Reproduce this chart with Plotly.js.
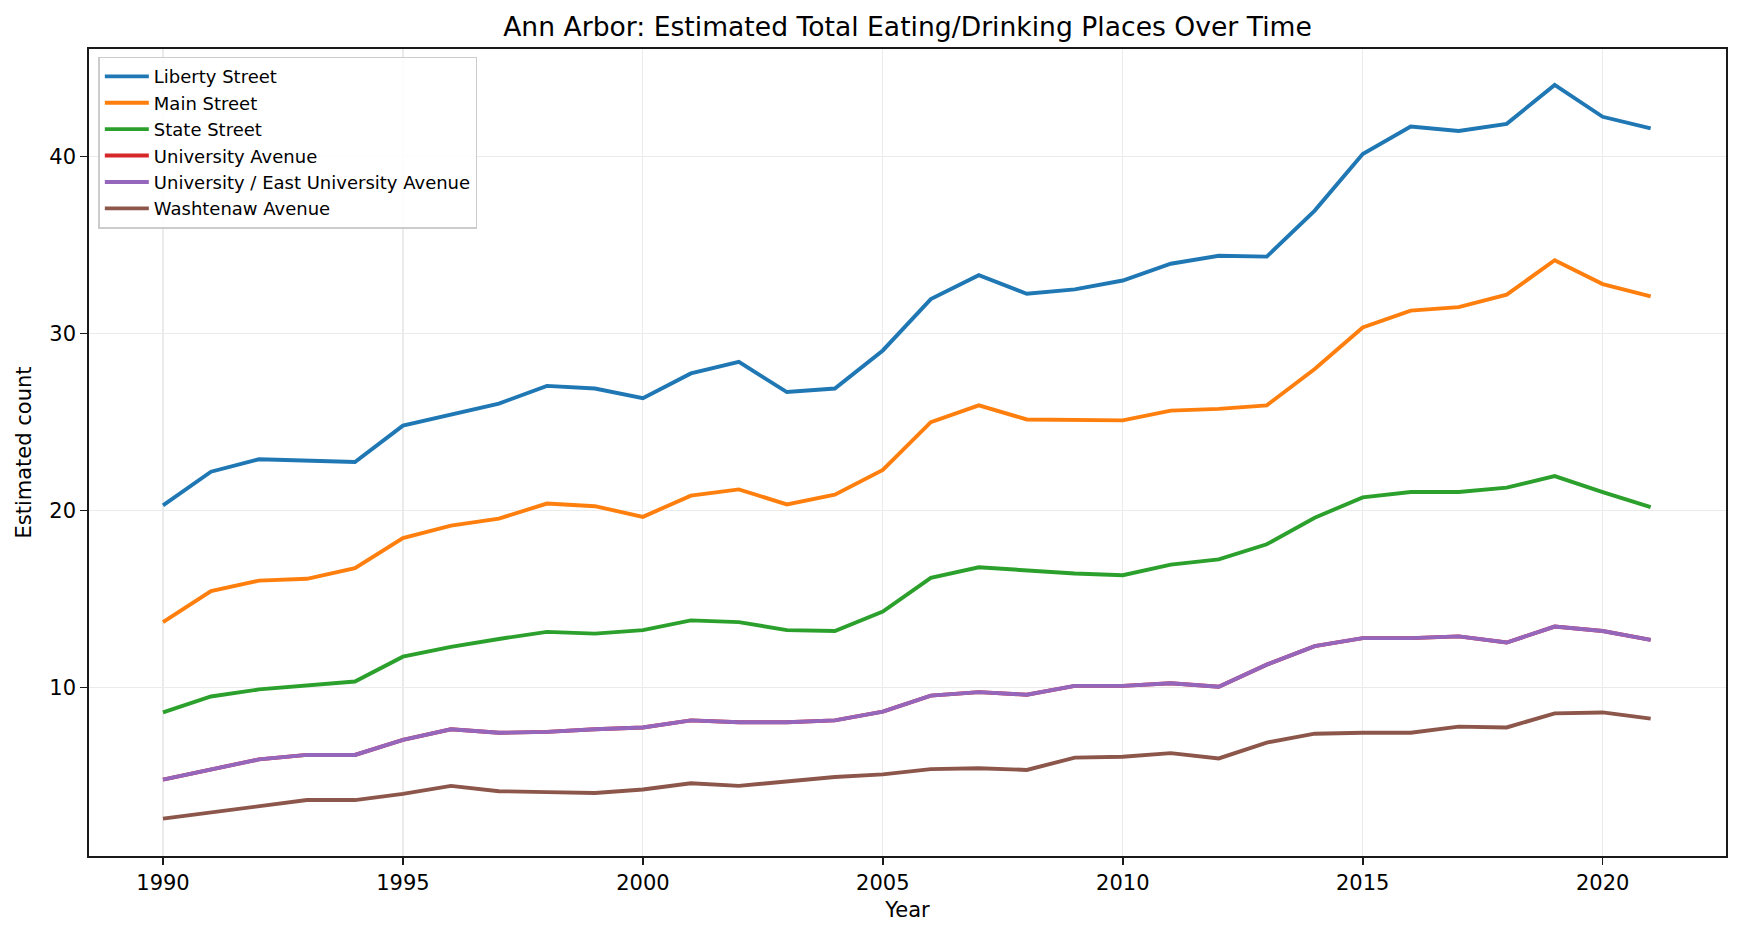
<!DOCTYPE html>
<html>
<head>
<meta charset="utf-8">
<script src="https://cdn.plot.ly/plotly-3.0.1.min.js"></script>
<style>html,body{margin:0;padding:0;background:#fff;}</style>
</head>
<body>
<div id="chart" style="width:1741px;height:936px;"></div>
<script>
const years = [1990,1991,1992,1993,1994,1995,1996,1997,1998,1999,2000,2001,2002,2003,2004,2005,2006,2007,2008,2009,2010,2011,2012,2013,2014,2015,2016,2017,2018,2019,2020,2021];
const libertyStreet = [20.3,22.2,22.9,22.8,22.75,24.8,25.4,26.05,27.05,26.9,26.35,27.75,28.4,26.7,26.9,29.05,31.95,33.3,32.25,32.5,33.0,33.95,34.4,34.35,36.95,40.15,41.7,41.45,41.85,44.05,42.25,41.6];
const mainStreet = [13.7,15.45,16.05,16.15,16.75,18.45,19.15,19.55,20.4,20.25,19.65,20.85,21.2,20.35,20.9,22.3,25.0,25.95,25.15,25.15,25.1,25.65,25.75,25.95,28.0,30.35,31.3,31.5,32.2,34.15,32.8,32.1];
const stateStreet = [8.6,9.5,9.9,10.1,10.35,11.75,12.3,12.75,13.15,13.05,13.25,13.8,13.7,13.25,13.2,14.3,16.2,16.8,16.6,16.45,16.35,16.95,17.25,18.1,19.6,20.75,21.05,21.05,21.3,21.95,21.05,20.2];
const universityAvenue = [4.8,5.4,5.95,6.2,6.2,7.05,7.65,7.45,7.5,7.65,7.75,8.15,8.05,8.05,8.15,8.65,9.55,9.75,9.6,10.1,10.1,10.25,10.05,11.3,12.35,12.8,12.8,12.9,12.55,13.45,13.2,12.7];
const universityEastAvenue = [4.8,5.4,5.95,6.2,6.2,7.05,7.65,7.45,7.5,7.65,7.75,8.15,8.05,8.05,8.15,8.65,9.55,9.75,9.6,10.1,10.1,10.25,10.05,11.3,12.35,12.8,12.8,12.9,12.55,13.45,13.2,12.7];
const washtenawAvenue = [2.6,2.95,3.35,3.65,3.65,4.0,4.45,4.15,4.1,4.05,4.25,4.6,4.45,4.7,4.95,5.1,5.4,5.45,5.35,6.05,6.1,6.3,6.0,6.9,7.4,7.45,7.45,7.8,7.75,8.55,8.6,8.25];

const seriesNames = ["Liberty Street","Main Street","State Street","University Avenue","University / East University Avenue","Washtenaw Avenue"];
const seriesValues = [libertyStreet, mainStreet, stateStreet, universityAvenue, universityEastAvenue, washtenawAvenue];
const seriesColors = ["#1f77b4","#ff7f0e","#2ca02c","#d62728","#9467bd","#8c564b"];
const xTicks = [1990,1995,2000,2005,2010,2015,2020];
const yTicks = [10,20,30,40];

const traces = seriesNames.map((n,i)=>({
  type:"scatter", mode:"lines", name:n, x:years, y:seriesValues[i],
  line:{color:seriesColors[i], width:3.9}
}));

const font = "DejaVu Sans, sans-serif";
const layout = {
  width:1741, height:936,
  paper_bgcolor:"#fff", plot_bgcolor:"#fff",
  margin:{l:89, r:15, t:49, b:80},
  font:{family:font, color:"#000"},
  title:{text:"Ann Arbor: Estimated Total Eating/Drinking Places Over Time", font:{family:font, size:26.6, color:"#000"}, x:0.5, xref:"paper", xanchor:"center", y:0.972, yanchor:"middle"},
  xaxis:{
    range:[1988.458,2022.57], tickvals:xTicks, ticktext:xTicks.map(String),
    ticks:"outside", ticklen:7, tickwidth:1.6, tickcolor:"#1a1a1a",
    showgrid:true, gridcolor:"#ebebeb", gridwidth:1.2,
    showline:true, linecolor:"#1a1a1a", linewidth:1.8, mirror:true, zeroline:false,
    tickfont:{family:font, size:21, color:"#000"},
    title:{text:"Year", font:{family:font, size:21, color:"#000"}, standoff:8}
  },
  yaxis:{
    range:[0.49,46.08], tickvals:yTicks, ticktext:yTicks.map(String),
    ticks:"outside", ticklen:7, tickwidth:1.6, tickcolor:"#1a1a1a",
    showgrid:true, gridcolor:"#ebebeb", gridwidth:1.2,
    showline:true, linecolor:"#1a1a1a", linewidth:1.8, mirror:true, zeroline:false,
    tickfont:{family:font, size:21, color:"#000"},
    title:{text:"Estimated count", font:{family:font, size:21, color:"#000"}, standoff:12}
  },
  legend:{
    x:0.0057, y:0.9905, xanchor:"left", yanchor:"top",
    bgcolor:"rgba(255,255,255,0.9)", bordercolor:"#cccccc", borderwidth:1.5,
    itemwidth:44,
    font:{family:font, size:18, color:"#000"}
  },
  showlegend:true
};
Plotly.newPlot("chart", traces, layout, {displayModeBar:false, staticPlot:true});
</script>
</body>
</html>
